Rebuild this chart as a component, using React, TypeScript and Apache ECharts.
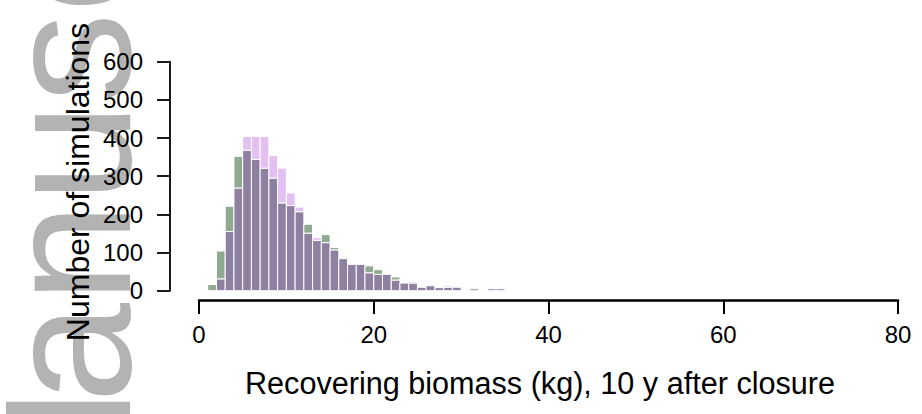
import React, { useEffect, useRef } from "react";
import * as echarts from "echarts";

const binStarts = [1,2,3,4,5,6,7,8,9,10,11,12,13,14,15,16,17,18,19,20,21,22,23,24,25,26,27,28,29,30,31,32,33,34];
const greenCounts = [16,104,221,352,368,344,321,295,230,223,207,174,132,147,113,84,69,69,65,55,43,36,20,20,9,13,8,9,9,0,5,0,5,5];
const pinkCounts = [0,31,155,269,404,404,404,354,321,256,219,151,139,126,107,84,69,69,47,43,43,28,20,24,9,13,8,13,9,0,5,0,5,5];
const xTicks = [0, 20, 40, 60, 80];
const yTicks = [0, 100, 200, 300, 400, 500, 600];

const GREEN = "#8faa8f";
const PINK = "#e2c0f2";
const PURPLE = "#8e80a0";
const FONT = "'Liberation Sans', Arial, sans-serif";

export default function App() {
  const ref = useRef<HTMLDivElement>(null);
  useEffect(() => {
    if (!ref.current) return;
    const chart = echarts.init(ref.current, null, { renderer: "svg" });
    const data = binStarts.map((lo, i) => [lo, lo + 1, greenCounts[i], pinkCounts[i]]);
    const wm = (text: string, y: number) => ({
      type: "text",
      x: 67,
      y,
      rotation: Math.PI / 2,
      z: -10,
      style: {
        text,
        fill: "#b3b3b3",
        font: `180px ${FONT}`,
        textAlign: "left",
        textVerticalAlign: "middle",
      },
    });
    chart.setOption({
      animation: false,
      grid: { left: 199, top: 61.7, width: 699, height: 229 },
      xAxis: {
        type: "value",
        min: xTicks[0],
        max: xTicks[xTicks.length - 1],
        interval: 20,
        offset: 9.3,
        splitLine: { show: false },
        axisLine: { show: true, onZero: false, lineStyle: { color: "#000", width: 2.5 } },
        axisTick: { show: true, length: 14, lineStyle: { color: "#000", width: 2 } },
        axisLabel: { color: "#000", fontSize: 24, fontFamily: FONT, margin: 22 },
      },
      yAxis: {
        type: "value",
        min: yTicks[0],
        max: yTicks[yTicks.length - 1],
        interval: 100,
        offset: 29,
        splitLine: { show: false },
        axisLine: { show: true, onZero: false, lineStyle: { color: "#000", width: 1.8 } },
        axisTick: { show: true, length: 13, lineStyle: { color: "#000", width: 1.8 } },
        axisLabel: { color: "#000", fontSize: 24, fontFamily: FONT, margin: 27 },
      },
      graphic: [
        wm("M", 537),
        wm("anuscript", 403),
        {
          type: "text",
          x: 78,
          y: 182,
          rotation: Math.PI / 2,
          z: 10,
          style: {
            text: "Number of simulations",
            fill: "#000",
            font: `32px ${FONT}`,
            textAlign: "center",
            textVerticalAlign: "middle",
          },
        },
        {
          type: "text",
          x: 540,
          y: 383,
          z: 10,
          style: {
            text: "Recovering biomass (kg), 10 y after closure",
            fill: "#000",
            font: `30.6px ${FONT}`,
            textAlign: "center",
            textVerticalAlign: "middle",
          },
        },
      ],
      series: [
        {
          type: "custom",
          data,
          encode: { x: [0, 1], y: [2, 3] },
          renderItem: (params: any, api: any) => {
            const lo = api.value(0);
            const hi = api.value(1);
            const g = api.value(2);
            const p = api.value(3);
            const m = Math.min(g, p);
            const t = Math.max(g, p);
            if (t <= 0) return null;
            const base = api.coord([lo, 0]);
            const right = api.coord([hi, m]);
            const topPt = api.coord([hi, t]);
            const w = right[0] - base[0];
            const children: any[] = [];
            if (m > 0) {
              children.push({
                type: "rect",
                shape: { x: base[0], y: right[1], width: w, height: base[1] - right[1] },
                style: { fill: PURPLE, stroke: "#ffffff", lineWidth: 1 },
              });
            }
            if (t > m) {
              children.push({
                type: "rect",
                shape: { x: base[0], y: topPt[1], width: w, height: right[1] - topPt[1] },
                style: { fill: g > p ? GREEN : PINK, stroke: "#ffffff", lineWidth: 1 },
              });
            }
            return { type: "group", children };
          },
        },
      ],
    });
    return () => chart.dispose();
  }, []);
  return (
    <div
      ref={ref}
      style={{ position: "fixed", left: 0, top: 0, width: 922, height: 414, background: "#fff" }}
    />
  );
}
